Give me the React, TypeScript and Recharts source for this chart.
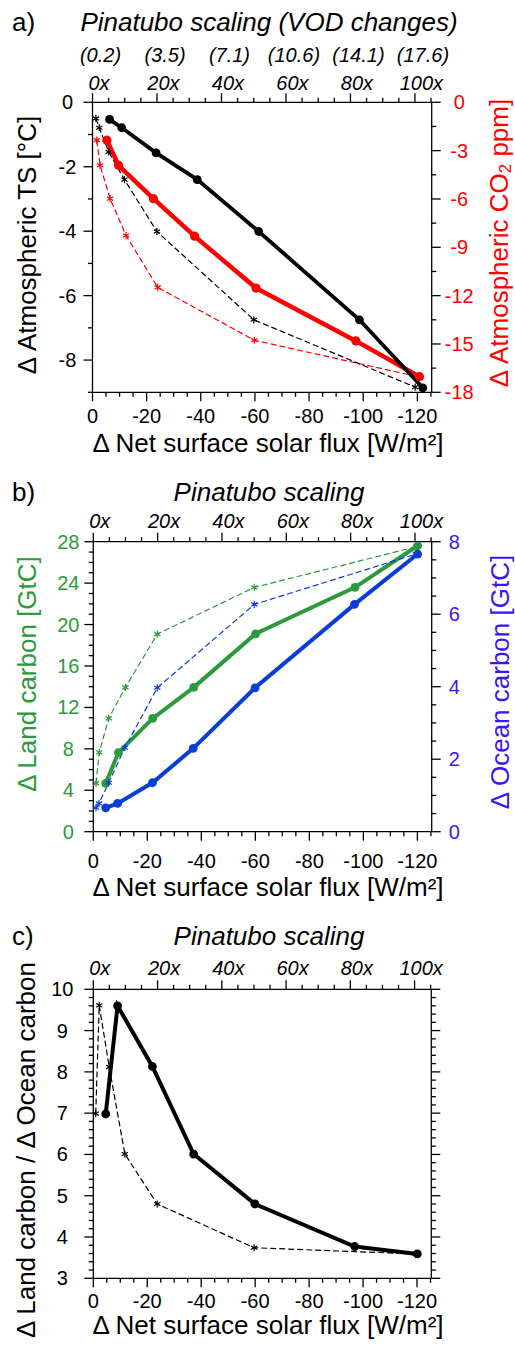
import React from 'react';
import { LineChart, Line, XAxis, YAxis } from 'recharts';

const FONT = '"Liberation Sans", Arial, Helvetica, sans-serif';
const RED = '#ff0000';
const GREEN = '#2a9a3c';
const BLUE_LINE = '#0a3cd8';
const BLUE_TEXT = '#3c14f5';

// a) temperature / CO2 vs. surface solar flux
const tsSolidX = [-6.3, -10.8, -23.5, -38.7, -61.4, -98.6, -122.0];
const tsSolidY = [-0.53, -0.79, -1.57, -2.4, -4.01, -6.75, -8.86];
const tsDashX = [-1.25, -2.5, -6.0, -11.8, -23.8, -59.6, -119.2];
const tsDashY = [-0.5, -0.79, -1.54, -2.4, -4.01, -6.75, -8.84];
const co2SolidX = [-5.3, -9.6, -22.5, -37.7, -60.4, -97.3, -120.8];
const co2SolidY = [-2.35, -3.91, -5.98, -8.31, -11.53, -14.81, -17.03];
const co2DashX = [-1.6, -2.8, -6.5, -12.4, -24.1, -59.8, -120.2];
const co2DashY = [-2.35, -3.91, -5.98, -8.27, -11.49, -14.77, -17.03];

// b) land / ocean carbon
const landSolidX = [-4.6, -9.3, -22.0, -37.2, -60.1, -96.9, -120.1];
const landSolidY = [4.67, 7.63, 10.94, 13.94, 19.11, 23.59, 27.61];
const landDashX = [-1.0, -2.2, -5.7, -11.9, -23.7, -59.6, -119.5];
const landDashY = [4.67, 7.66, 10.94, 13.94, 19.08, 23.59, 27.51];
const oceanSolidX = [-4.6, -9.0, -21.9, -37.0, -59.9, -96.7, -120.1];
const oceanSolidY = [0.66, 0.78, 1.35, 2.3, 3.97, 6.27, 7.66];
const oceanDashX = [-1.0, -2.1, -5.7, -11.7, -23.7, -59.6, -119.5];
const oceanDashY = [0.66, 0.78, 1.35, 2.32, 3.97, 6.27, 7.66];

// c) land / ocean ratio
const ratioSolidX = [-4.6, -9.0, -21.9, -37.2, -59.9, -96.9, -120.1];
const ratioSolidY = [6.98, 9.6, 8.13, 6.01, 4.8, 3.77, 3.59];
const ratioDashX = [-0.9, -2.2, -5.9, -11.7, -23.7, -59.6, -119.5];
const ratioDashY = [6.99, 9.61, 8.12, 6.01, 4.8, 3.74, 3.59];

// axis labels
const fluxLabels = [0, -20, -40, -60, -80, -100, -120];
const pinatuboLabels = [0, 20, 40, 60, 80, 100];
const vodLabels = ['(0.2)', '(3.5)', '(7.1)', '(10.6)', '(14.1)', '(17.6)'];
const tsLabels = [-8, -6, -4, -2, 0];
const co2Labels = [-18, -15, -12, -9, -6, -3, 0];
const landLabels = [0, 4, 8, 12, 16, 20, 24, 28];
const oceanLabels = [0, 2, 4, 6, 8];
const ratioLabels = [3, 4, 5, 6, 7, 8, 9, 10];

const zip = (xs: number[], ys: number[]) => xs.map((x, i) => ({ x, y: ys[i] }));

function stepTicks(from: number, to: number, step: number): number[] {
  const out: number[] = [];
  const n = Math.round((to - from) / step);
  for (let i = 0; i <= n; i++) out.push(+(from + i * step).toFixed(3));
  return out;
}

type Side = 'left' | 'right' | 'top' | 'bottom';
interface TickCfg {
  side: Side;
  majors: number[];
  off: number;
  color?: string;
  suffix?: string;
  italic?: boolean;
  noLabels?: boolean;
  upper?: string[];
}

const makeTick = (cfg: TickCfg) => (props: any) => {
  const { x, y, payload } = props;
  const v = Number(payload.value);
  const mi = cfg.majors.findIndex((m) => Math.abs(m - v) < 1e-6);
  const major = mi >= 0;
  const len = major ? 9 : 4.5;
  let x2 = x;
  let y2 = y;
  let tx = x;
  let ty = y;
  if (cfg.side === 'left') { x2 = x - len; tx = x - cfg.off; ty = y + 7; }
  if (cfg.side === 'right') { x2 = x + len; tx = x + cfg.off; ty = y + 7; }
  if (cfg.side === 'top') { y2 = y - len; tx = x + 6.5; ty = y - cfg.off; }
  if (cfg.side === 'bottom') { y2 = y + len; ty = y + cfg.off; }
  const showLabel = major && !cfg.noLabels;
  return (
    <g>
      <line x1={x} y1={y} x2={x2} y2={y2} stroke="#000" strokeWidth={1.3} />
      {showLabel && (
        <text x={tx} y={ty} textAnchor="middle" fontSize={20} fontFamily={FONT}
          fontStyle={cfg.italic ? 'italic' : 'normal'} fill={cfg.color ?? '#000'}>
          {`${v}${cfg.suffix ?? ''}`}
        </text>
      )}
      {showLabel && cfg.upper && (
        <text x={tx + 1.5} y={ty - 28} textAnchor="middle" fontSize={20} fontFamily={FONT}
          fontStyle="italic" fill="#000">
          {cfg.upper[mi]}
        </text>
      )}
    </g>
  );
};

const disc = (color: string, r: number) => (p: any) => (
  <circle key={`c${p.index}`} cx={p.cx} cy={p.cy} r={r} fill={color} stroke="none" />
);

const star = (color: string) => (p: any) => {
  const s = 3.6;
  const dx = s * 0.866;
  const dy = s * 0.5;
  return (
    <g key={`s${p.index}`} stroke={color} strokeWidth={1.2}>
      <line x1={p.cx} y1={p.cy - s} x2={p.cx} y2={p.cy + s} />
      <line x1={p.cx - dx} y1={p.cy - dy} x2={p.cx + dx} y2={p.cy + dy} />
      <line x1={p.cx - dx} y1={p.cy + dy} x2={p.cx + dx} y2={p.cy - dy} />
    </g>
  );
};

interface SeriesDef {
  data: { x: number; y: number }[];
  axis: 'l' | 'r';
  color: string;
  width: number;
  dashed?: boolean;
  r?: number;
}

interface PanelProps {
  top: number;
  height: number;
  plot: { left: number; right: number; top: number; bottom: number };
  leftDomain: number[];
  rightDomain: number[];
  leftTicks: number[];
  rightTicks: number[];
  leftCfg: TickCfg;
  rightCfg: TickCfg;
  topCfg: TickCfg;
  bottomCfg: TickCfg;
  series: SeriesDef[];
}

const AX_W = 40;
const AX_H = 30;
const axisLine = { stroke: '#000', strokeWidth: 1.3 };

const Panel: React.FC<PanelProps> = (p) => {
  const margin = {
    left: p.plot.left - AX_W,
    right: 515 - p.plot.right - AX_W,
    top: p.plot.top - p.top - AX_H,
    bottom: p.top + p.height - p.plot.bottom - AX_H,
  };
  return (
    <div style={{ position: 'absolute', left: 0, top: p.top }}>
      <LineChart width={515} height={p.height} margin={margin}>
        <XAxis xAxisId="b" type="number" dataKey="x" orientation="bottom" reversed
          domain={[-125.3, 0]} allowDataOverflow ticks={stepTicks(-125, 0, 5)} interval={0}
          height={AX_H} tickSize={0} tickMargin={0} axisLine={axisLine} tickLine={false}
          tick={makeTick(p.bottomCfg)} />
        <XAxis xAxisId="t" type="number" dataKey="x" orientation="top"
          domain={[0, 105.2]} allowDataOverflow ticks={stepTicks(0, 105, 5)} interval={0}
          height={AX_H} tickSize={0} tickMargin={0} axisLine={axisLine} tickLine={false}
          tick={makeTick(p.topCfg)} />
        <YAxis yAxisId="l" type="number" orientation="left" domain={p.leftDomain}
          allowDataOverflow ticks={p.leftTicks} interval={0} width={AX_W}
          tickSize={0} tickMargin={0} axisLine={axisLine} tickLine={false}
          tick={makeTick(p.leftCfg)} />
        <YAxis yAxisId="r" type="number" orientation="right" domain={p.rightDomain}
          allowDataOverflow ticks={p.rightTicks} interval={0} width={AX_W}
          tickSize={0} tickMargin={0} axisLine={axisLine} tickLine={false}
          tick={makeTick(p.rightCfg)} />
        {p.series.map((s, i) => (
          <Line key={i} data={s.data} dataKey="y" xAxisId="b" yAxisId={s.axis}
            type="linear" stroke={s.color} strokeWidth={s.width}
            strokeDasharray={s.dashed ? '6 3' : undefined}
            dot={s.dashed ? star(s.color) : disc(s.color, s.r ?? 4.2)}
            activeDot={false} isAnimationActive={false} />
        ))}
      </LineChart>
    </div>
  );
};

const bottomCfg = (off: number): TickCfg => ({ side: 'bottom', majors: fluxLabels, off });
const topCfg = (off: number, upper?: string[]): TickCfg => ({
  side: 'top', majors: pinatuboLabels, off, suffix: 'x', italic: true, upper,
});

const txt = { fontFamily: FONT, fontSize: 26 };

const Titles: React.FC = () => (
  <svg width={515} height={1348} style={{ position: 'absolute', left: 0, top: 0, pointerEvents: 'none' }}>
    <text x={12} y={31} {...txt}>a)</text>
    <text x={269} y={31} {...txt} fontStyle="italic" textAnchor="middle">Pinatubo scaling (VOD changes)</text>
    <text x={268} y={452} {...txt} textAnchor="middle">Δ Net surface solar flux [W/m²]</text>
    <text transform="translate(27,245) rotate(-90)" {...txt} textAnchor="middle" dominantBaseline="central">
      Δ Atmospheric TS [°C]
    </text>
    <text transform="translate(499,243) rotate(-90)" {...txt} fill={RED} textAnchor="middle" dominantBaseline="central">
      Δ Atmospheric CO<tspan fontSize={17} dy={6}>2</tspan><tspan dy={-6}> ppm]</tspan>
    </text>

    <text x={12} y={500.7} {...txt}>b)</text>
    <text x={269} y={500.7} {...txt} fontStyle="italic" textAnchor="middle">Pinatubo scaling</text>
    <text x={268} y={895.5} {...txt} textAnchor="middle">Δ Net surface solar flux [W/m²]</text>
    <text transform="translate(27,674) rotate(-90)" {...txt} fill={GREEN} textAnchor="middle" dominantBaseline="central">
      Δ Land carbon [GtC]
    </text>
    <text transform="translate(500,682) rotate(-90)" {...txt} fill={BLUE_TEXT} textAnchor="middle" dominantBaseline="central">
      Δ Ocean carbon [GtC]
    </text>

    <text x={12} y={945} {...txt}>c)</text>
    <text x={269} y={945} {...txt} fontStyle="italic" textAnchor="middle">Pinatubo scaling</text>
    <text x={268} y={1334} {...txt} textAnchor="middle">Δ Net surface solar flux [W/m²]</text>
    <text transform="translate(26,1150) rotate(-90)" {...txt} textAnchor="middle" dominantBaseline="central">
      Δ Land carbon / Δ Ocean carbon
    </text>
  </svg>
);

const App: React.FC = () => (
  <div style={{ position: 'absolute', left: 0, top: 0, width: 515, height: 1348, background: '#fff' }}>
    <Panel
      top={0}
      height={470}
      plot={{ left: 92.5, right: 431.7, top: 102.3, bottom: 392.3 }}
      leftDomain={[-9, 0]}
      rightDomain={[-18, 0]}
      leftTicks={stepTicks(-9, 0, 1)}
      rightTicks={stepTicks(-18, 0, 1.5)}
      leftCfg={{ side: 'left', majors: tsLabels, off: 25 }}
      rightCfg={{ side: 'right', majors: co2Labels, off: 27.5, color: RED }}
      topCfg={topCfg(12, vodLabels)}
      bottomCfg={bottomCfg(31)}
      series={[
        { data: zip(co2DashX, co2DashY), axis: 'r', color: RED, width: 1.2, dashed: true },
        { data: zip(tsDashX, tsDashY), axis: 'l', color: '#000', width: 1.2, dashed: true },
        { data: zip(co2SolidX, co2SolidY), axis: 'r', color: RED, width: 4.5, r: 4.6 },
        { data: zip(tsSolidX, tsSolidY), axis: 'l', color: '#000', width: 3.8, r: 4.4 },
      ]}
    />
    <Panel
      top={460}
      height={470}
      plot={{ left: 93.3, right: 431.7, top: 541.7, bottom: 831.7 }}
      leftDomain={[0, 28]}
      rightDomain={[0, 8]}
      leftTicks={stepTicks(0, 28, 1)}
      rightTicks={stepTicks(0, 8, 0.5)}
      leftCfg={{ side: 'left', majors: landLabels, off: 25, color: GREEN }}
      rightCfg={{ side: 'right', majors: oceanLabels, off: 22.5, color: BLUE_TEXT }}
      topCfg={topCfg(13.5)}
      bottomCfg={bottomCfg(36)}
      series={[
        { data: zip(landDashX, landDashY), axis: 'l', color: GREEN, width: 1.2, dashed: true },
        { data: zip(landSolidX, landSolidY), axis: 'l', color: GREEN, width: 4, r: 4.4 },
        { data: zip(oceanDashX, oceanDashY), axis: 'r', color: BLUE_LINE, width: 1.2, dashed: true },
        { data: zip(oceanSolidX, oceanSolidY), axis: 'r', color: BLUE_LINE, width: 4, r: 4.4 },
      ]}
    />
    <Panel
      top={920}
      height={428}
      plot={{ left: 93.3, right: 431.3, top: 989.3, bottom: 1278.3 }}
      leftDomain={[3, 10]}
      rightDomain={[3, 10]}
      leftTicks={stepTicks(3, 10, 0.2)}
      rightTicks={stepTicks(3, 10, 0.2)}
      leftCfg={{ side: 'left', majors: ratioLabels, off: 31 }}
      rightCfg={{ side: 'right', majors: ratioLabels, off: 20, noLabels: true }}
      topCfg={topCfg(14)}
      bottomCfg={bottomCfg(30)}
      series={[
        { data: zip(ratioDashX, ratioDashY), axis: 'l', color: '#000', width: 1.2, dashed: true },
        { data: zip(ratioSolidX, ratioSolidY), axis: 'l', color: '#000', width: 4, r: 4.4 },
      ]}
    />
    <Titles />
  </div>
);

export default App;
